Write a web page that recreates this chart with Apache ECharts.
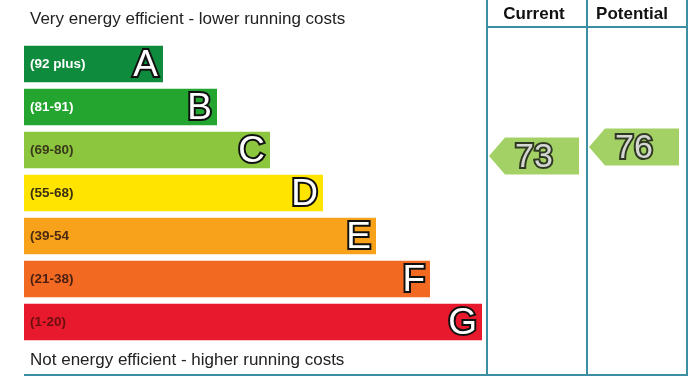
<!DOCTYPE html>
<html>
<head>
<meta charset="utf-8">
<script src="https://cdn.jsdelivr.net/npm/echarts@6/dist/echarts.min.js"></script>
<style>html,body{margin:0;padding:0;background:#fff}#c{width:700px;height:388px}</style>
</head>
<body>
<div id="c"></div>
<script>
// Bands (top = most efficient)
var bandLetters = ['A', 'B', 'C', 'D', 'E', 'F', 'G'];
var bandRanges = ['(92 plus)', '(81-91)', '(69-80)', '(55-68)', '(39-54', '(21-38)', '(1-20)'];
var bandLengths = [139, 193, 246, 299, 352, 406, 458];
var bandColors = ['#0f8b3d', '#23a52f', '#8cc63f', '#ffe400', '#f8a21c', '#f26a22', '#e8192c'];
var rangeTextColors = ['#ffffff', '#ffffff', '#3a3a1a', '#3a3010', '#4a2a10', '#4a1e10', '#6a1010'];
// Ratings
var ratingColumns = ['Current', 'Potential'];
var ratingValues = [73, 76];
var ratingColor = '#8cc63f';

var chart = echarts.init(document.getElementById('c'), null, {renderer: 'canvas'});
var teal = '#3b8fa0';
var font = 'Liberation Sans, Arial, sans-serif';

var option = {
  animation: false,
  backgroundColor: '#ffffff',
  grid: [
    {left: 24, width: 663, top: 42.5, height: 301},
    {left: 487, width: 200, top: 75, height: 300}
  ],
  xAxis: [
    {gridIndex: 0, type: 'value', min: 0, max: 663, show: false},
    {gridIndex: 1, type: 'category', data: ratingColumns, show: false}
  ],
  yAxis: [
    {gridIndex: 0, type: 'category', data: bandLetters, inverse: true, show: false},
    {gridIndex: 1, type: 'value', min: 0, max: 100, show: false}
  ],
  series: [
    {
      type: 'bar', xAxisIndex: 0, yAxisIndex: 0, barWidth: 36.5,
      data: bandLengths.map(function (v, i) {
        return {value: v, itemStyle: {color: bandColors[i]},
          label: {color: rangeTextColors[i]}};
      }),
      label: {show: true, position: 'insideLeft', distance: 6,
        formatter: function (p) { return bandRanges[p.dataIndex]; },
        fontFamily: font, fontWeight: 'bold', fontSize: 13.5}
    },
    {
      type: 'bar', xAxisIndex: 0, yAxisIndex: 0, barWidth: 36.5, barGap: '-100%',
      data: bandLengths,
      itemStyle: {color: 'rgba(0,0,0,0)'},
      label: {show: true, position: 'insideRight', distance: 5, offset: [0, 2],
        formatter: function (p) { return bandLetters[p.dataIndex]; },
        fontFamily: font, fontSize: 37, color: '#ffffff',
        textBorderColor: '#111111', textBorderWidth: 4}
    },
    {
      type: 'scatter', xAxisIndex: 1, yAxisIndex: 1,
      symbol: 'path://M0,18.5 L16,0 L90,0 L90,37 L16,37 Z',
      symbolSize: [90, 37], symbolKeepAspect: false, symbolOffset: [-3, 0],
      itemStyle: {color: ratingColor},
      data: ratingValues,
      label: {show: true, position: 'inside', offset: [0, 2],
        formatter: function (p) { return String(ratingValues[p.dataIndex]); },
        fontFamily: font, fontSize: 34, color: '#ffffff',
        textBorderColor: '#111111', textBorderWidth: 4}
    }
  ],
  graphic: [
    {type: 'text', left: 30, top: 11, style: {text: 'Very energy efficient - lower running costs',
      font: '17px ' + font, fill: '#222222'}},
    {type: 'text', left: 30, top: 352, style: {text: 'Not energy efficient - higher running costs',
      font: '17px ' + font, fill: '#222222'}},
    {type: 'text', x: 534, y: 14, style: {text: 'Current', font: 'bold 17px ' + font,
      fill: '#111111', align: 'center', verticalAlign: 'middle'}},
    {type: 'text', x: 632, y: 14, style: {text: 'Potential', font: 'bold 17px ' + font,
      fill: '#111111', align: 'center', verticalAlign: 'middle'}},
    {type: 'line', shape: {x1: 487, y1: 0, x2: 487, y2: 376}, style: {stroke: teal, lineWidth: 2}},
    {type: 'line', shape: {x1: 587, y1: 0, x2: 587, y2: 376}, style: {stroke: teal, lineWidth: 2}},
    {type: 'line', shape: {x1: 687, y1: 0, x2: 687, y2: 376}, style: {stroke: teal, lineWidth: 2}},
    {type: 'line', shape: {x1: 487, y1: 27, x2: 687, y2: 27}, style: {stroke: teal, lineWidth: 2}},
    {type: 'line', shape: {x1: 24, y1: 375, x2: 688, y2: 375}, style: {stroke: teal, lineWidth: 2}}
  ]
};
chart.setOption(option);
</script>
</body>
</html>
